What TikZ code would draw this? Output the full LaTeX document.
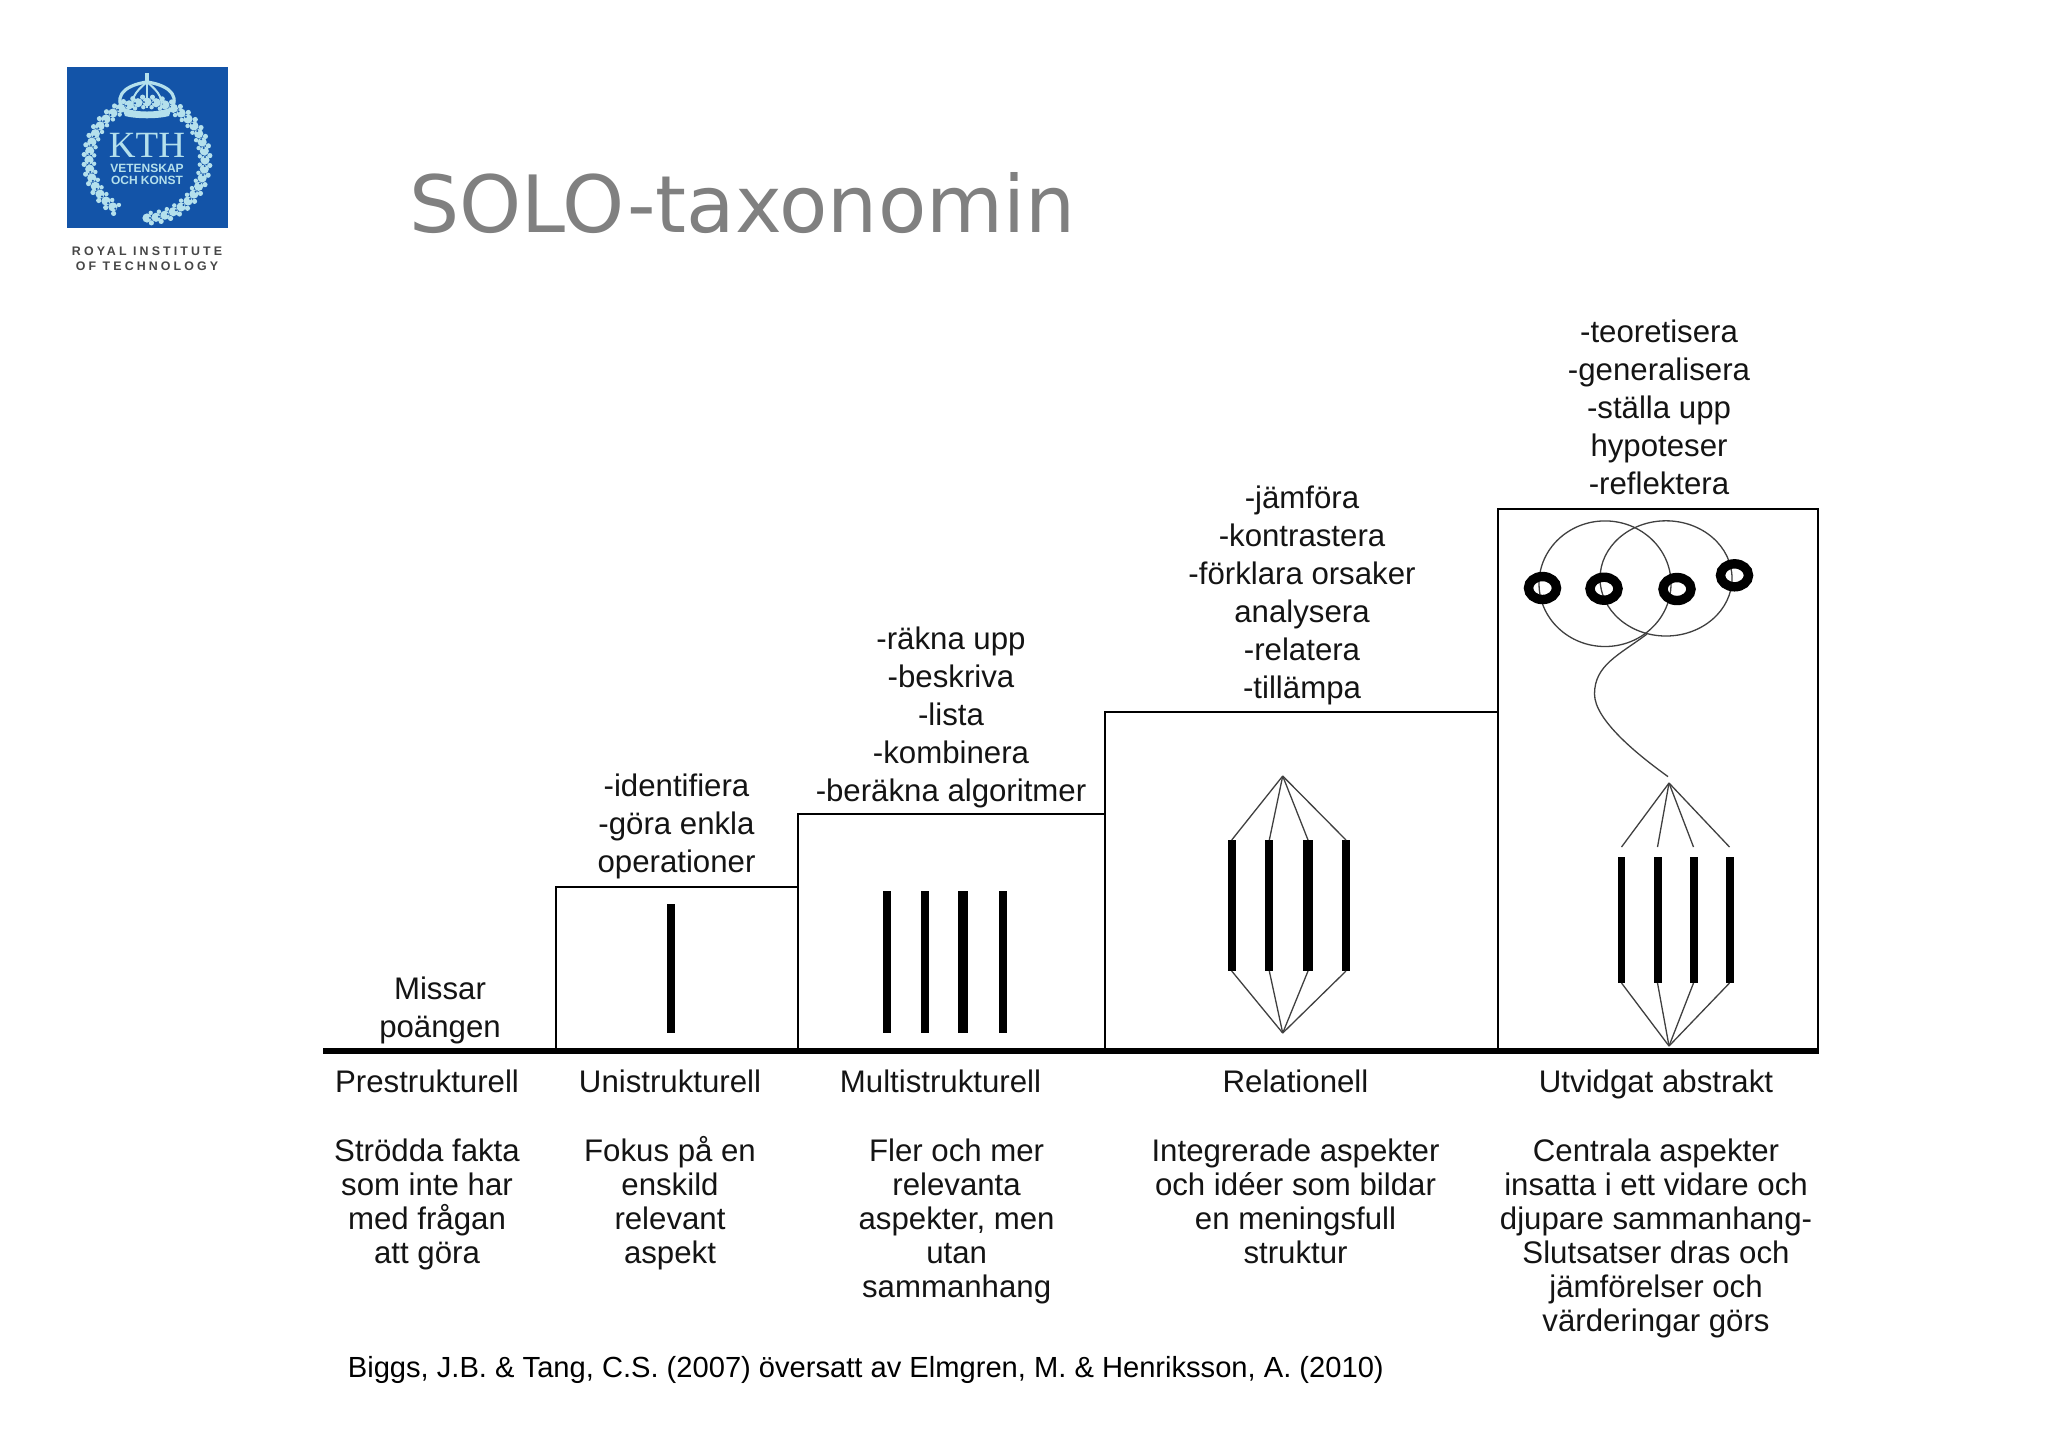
\documentclass[tikz,border=0pt]{standalone}
\usepackage{fontspec}
\setmainfont{Liberation Sans}
\newfontfamily\titlefont{DejaVu Sans}
\newfontfamily\logoserif{Liberation Serif}
\newfontfamily\logospaced[LetterSpace=25]{Liberation Sans}
\definecolor{kthblue}{HTML}{1354A8}
\definecolor{kthlight}{HTML}{B4E0EC}
\definecolor{titlegray}{HTML}{808080}
\definecolor{inkc}{HTML}{141414}
\tikzset{
  lbl/.style={inner sep=0pt,outer sep=0pt,align=center,anchor=north,text=inkc,font=\fontsize{15.6}{19}\selectfont},
  dsc/.style={inner sep=0pt,outer sep=0pt,align=center,anchor=north,text=inkc,font=\fontsize{15.6}{17}\selectfont},
  barnode/.style={fill=black,draw=none,inner sep=0pt,outer sep=0pt,minimum height=#1},
  boxline/.style={line width=1pt,draw=black},
  fine/.style={line width=0.65pt,draw=black!75},
  ringline/.style={line width=4.7pt,draw=black},
  leaf/.style={fill=kthlight,draw=none},
  logotext/.style={inner sep=0pt,text=kthlight},
  logocap/.style={inner sep=0pt,text=black!72,font=\logospaced\bfseries\fontsize{6.2}{6.2}\selectfont},
}
\begin{document}
\begin{tikzpicture}[x=0.5pt,y=-0.5pt]
\useasboundingbox (0,0) rectangle (2048,1448);
\fill[white] (0,0) rectangle (2048,1448);

% logo
\fill[kthblue] (66.5,67) rectangle (228,228);
\foreach \a in {-90,-81,...,242}{
  \fill[leaf] ({147+58*cos(\a)},{160-58*sin(\a)}) circle (4.6);
  \fill[leaf] ({147+63*cos(\a+4)},{160-63*sin(\a+4)}) circle (2.6);
  \fill[leaf] ({147+53*cos(\a+4)},{160-53*sin(\a+4)}) circle (2.2);
  \fill[kthblue] ({147+58*cos(\a+3)},{160-58*sin(\a+3)}) circle (1.1);
}
\draw[kthlight,line width=1.6pt] (123,110) .. controls (112,92) and (132,84) .. (147,82) .. controls (162,84) and (182,92) .. (171,110);
\draw[kthlight,line width=1pt] (133,108) .. controls (130,96) and (140,88) .. (147,82) .. controls (154,88) and (164,96) .. (161,108);
\draw[kthlight,line width=1pt] (147,82) -- (147,108);
\draw[kthlight,line width=1.8pt] (147,73) -- (147,82);
\fill[kthlight] (122,107) .. controls (135,113) and (159,113) .. (172,107) -- (169,116) .. controls (158,119) and (136,119) .. (125,116) -- cycle;
\node[logotext,font=\logoserif\fontsize{18.5}{18.5}\selectfont] (kth) at (147,145) {KTH};
\node[logotext,font=\bfseries\fontsize{6}{6}\selectfont] (vet) at (147,168) {VETENSKAP};
\node[logotext,font=\bfseries\fontsize{6}{6}\selectfont] (och) at (147,180) {OCH KONST};
\node[logocap] (roy) at (147,251) {ROYAL INSTITUTE};
\node[logocap] (tech) at (147,266) {OF TECHNOLOGY};

% title
\node[inner sep=0pt,anchor=base west,text=titlegray,font=\titlefont\fontsize{39.5}{39.5}\selectfont] (title) at (409,232) {SOLO-taxonomin};

% stair outline
\coordinate (ul) at (556,1051);
\coordinate (ut) at (556,887);
\coordinate (mb) at (798,1051);
\coordinate (mt) at (798,814);
\coordinate (rb) at (1105,1051);
\coordinate (rt) at (1105,712);
\coordinate (ab) at (1498,1051);
\coordinate (at) at (1498,508.5);
\coordinate (ar) at (1818,508.5);
\coordinate (arb) at (1818,1051);
\draw[boxline] (ul) -- (ut) -- (798,887);
\draw[boxline] (mb) -- (mt) -- (1105,814);
\draw[boxline] (rb) -- (rt) -- (1498,712);
\draw[boxline] (ab) -- (at) -- (ar) -- (arb);
\coordinate (basel) at (323,1051);
\coordinate (baser) at (1819,1051);
\draw[line width=3.2pt,draw=black] (basel) -- (baser);

% unistructural
\node[barnode=64.5pt,minimum width=4pt] (u1) at (670.5,968.8) {};

% multistructural
\begin{scope}[every node/.append style={barnode=71pt}]
\node[minimum width=4pt] (m1) at (887,962) {};
\node[minimum width=3.8pt] (m2) at (925,962) {};
\node[minimum width=5pt] (m3) at (963,962) {};
\node[minimum width=4pt] (m4) at (1003,962) {};
\end{scope}

% relational
\begin{scope}[every node/.append style={barnode=65.5pt}]
\node[minimum width=3.8pt] (r1) at (1231.7,905.5) {};
\node[minimum width=4pt] (r2) at (1269.3,905.5) {};
\node[minimum width=4.8pt] (r3) at (1308,905.5) {};
\node[minimum width=4pt] (r4) at (1346,905.5) {};
\end{scope}
\coordinate (rtop) at (1282.7,776);
\coordinate (rbot) at (1282.7,1033);
\foreach \b in {r1,r2,r3,r4}{
  \draw[fine] (rtop) -- (\b.north);
  \draw[fine] (rbot) -- (\b.south);
}

% extended abstract
\begin{scope}[every node/.append style={barnode=63pt}]
\node[minimum width=3.8pt] (a1) at (1621.5,920) {};
\node[minimum width=4pt] (a2) at (1657.5,920) {};
\node[minimum width=4pt] (a3) at (1693.5,920) {};
\node[minimum width=4pt] (a4) at (1729.5,920) {};
\end{scope}
\coordinate (atop) at (1669,783);
\coordinate (abot) at (1669,1046);
\foreach \b in {a1,a2,a3,a4}{
  \draw[fine] (atop) -- ([yshift=5pt]\b.north);
  \draw[fine] (abot) -- (\b.south);
}
\draw[fine] (1605,583.7) ellipse [x radius=66,y radius=62.8];
\draw[fine] (1666,578.4) ellipse [x radius=66,y radius=57.6];
\draw[ringline] (1542.5,588) ellipse [x radius=14,y radius=11.5];
\draw[ringline] (1604,588.7) ellipse [x radius=14,y radius=11.5];
\draw[ringline] (1677,589) ellipse [x radius=14,y radius=11.5];
\draw[ringline] (1734.5,575.3) ellipse [x radius=14,y radius=11.5];
\coordinate (cvs) at (1647,634);
\coordinate (cvm) at (1594.5,694);
\coordinate (cve) at (1668,776.6);
\draw[fine] (cvs) .. controls (1619,655) and (1594.5,665) .. (cvm) .. controls (1594.5,720) and (1638,755) .. (cve);

% texts above
\node[lbl] (t5) at (1659,319.6) {-teoretisera\\-generalisera\\-ställa upp\\hypoteser\\-reflektera};
\node[lbl] (t4) at (1302,486.3) {-jämföra\\-kontrastera\\-förklara orsaker\\analysera\\-relatera\\-tillämpa};
\node[lbl] (t3) at (951,626.6) {-räkna upp\\-beskriva\\-lista\\-kombinera\\-beräkna algoritmer};
\node[lbl] (t2) at (676.5,774) {-identifiera\\-göra enkla\\operationer};
\node[lbl] (t1) at (440,977.3) {Missar\\poängen};

% level names
\node[lbl] (n1) at (427,1070.3) {Prestrukturell};
\node[lbl] (n2) at (670,1070.3) {Unistrukturell};
\node[lbl] (n3) at (940.5,1070.3) {Multistrukturell};
\node[lbl] (n4) at (1295.5,1070.3) {Relationell};
\node[lbl] (n5) at (1656,1070.3) {Utvidgat abstrakt};

% descriptions
\node[dsc] (d1) at (427,1139.3) {Strödda fakta\\som inte har\\med frågan\\att göra};
\node[dsc] (d2) at (670,1136.7) {Fokus på en\\enskild\\relevant\\aspekt};
\node[dsc] (d3) at (956.6,1139.3) {Fler och mer\\relevanta\\aspekter, men\\utan\\sammanhang};
\node[dsc] (d4) at (1295.5,1139.3) {Integrerade aspekter\\och idéer som bildar\\en meningsfull\\struktur};
\node[dsc] (d5) at (1656,1139.3) {Centrala aspekter\\insatta i ett vidare och\\djupare sammanhang-\\Slutsatser dras och\\jämförelser och\\värderingar görs};

% citation
\node[inner sep=0pt,anchor=base west,text=black,font=\fontsize{14.56}{15}\selectfont] (cite) at (347.5,1377.5) {Biggs, J.B. \& Tang, C.S. (2007) översatt av Elmgren, M. \& Henriksson, A. (2010)};
\end{tikzpicture}
\end{document}
